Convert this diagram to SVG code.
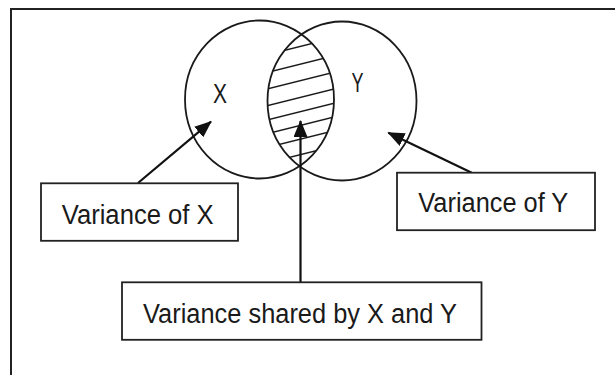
<svg xmlns="http://www.w3.org/2000/svg" width="615" height="375" viewBox="0 0 615 375">
<style>
.sh{fill:none;stroke:#1a1a1a;stroke-width:1.8}
.bx{fill:#fff;stroke:#222;stroke-width:1.8}
.tx{font-family:"Liberation Sans",Arial,sans-serif;font-size:27px;fill:#1a1a1a}
.ar{fill:none;stroke:#111;stroke-width:2.2;marker-end:url(#ah)}
.hl{stroke:#1a1a1a;stroke-width:1.6}
</style>
<defs>
<marker id="ah" markerUnits="userSpaceOnUse" markerWidth="17" markerHeight="14" refX="16" refY="7" orient="auto">
<path d="M0,0 L17,7 L0,14 z" fill="#111"/>
</marker>
<clipPath id="cl"><ellipse cx="259.5" cy="99.5" rx="74.5" ry="79"/></clipPath>
<clipPath id="cr"><ellipse cx="342" cy="101" rx="74.5" ry="79.5"/></clipPath>
</defs>
<rect width="615" height="375" fill="#fff"/>
<path d="M11,380 L11,9 L620,9" fill="none" stroke="#222" stroke-width="2"/>
<g id="hatch" clip-path="url(#cl)"><g clip-path="url(#cr)">
<line class="hl" x1="255" y1="57.8" x2="345" y2="35.3"/>
<line class="hl" x1="255" y1="75.5" x2="345" y2="53"/>
<line class="hl" x1="255" y1="92" x2="345" y2="69.5"/>
<line class="hl" x1="255" y1="108.7" x2="345" y2="86.2"/>
<line class="hl" x1="255" y1="123" x2="345" y2="100.5"/>
<line class="hl" x1="255" y1="136.8" x2="345" y2="114.3"/>
<line class="hl" x1="255" y1="150.5" x2="345" y2="128"/>
<line class="hl" x1="255" y1="166" x2="345" y2="143.5"/>
</g></g>
<g id="circleX"><ellipse class="sh" cx="259.5" cy="99.5" rx="74.5" ry="79"/><text class="tx" x="213" y="103" textLength="14" lengthAdjust="spacingAndGlyphs">X</text></g>
<g id="circleY"><ellipse class="sh" cx="342" cy="101" rx="74.5" ry="79.5"/><text class="tx" x="351.5" y="91.7" textLength="12" lengthAdjust="spacingAndGlyphs">Y</text></g>
<g id="connectors">
<line class="ar" x1="138" y1="183" x2="211" y2="121.7"/>
<line class="ar" x1="471.7" y1="172.7" x2="388.3" y2="132.7"/>
<line class="ar" x1="300.5" y1="282" x2="300.5" y2="121"/>
</g>
<g id="boxX"><rect class="bx" x="41" y="183.3" width="197" height="57.5"/><text class="tx" x="61.7" y="224" textLength="152" lengthAdjust="spacingAndGlyphs">Variance of X</text></g>
<g id="boxY"><rect class="bx" x="397" y="172.7" width="198" height="57.5"/><text class="tx" x="418.3" y="212.3" textLength="150" lengthAdjust="spacingAndGlyphs">Variance of Y</text></g>
<g id="boxShared"><rect class="bx" x="122" y="282.3" width="359.5" height="57.5"/><text class="tx" x="143" y="322.7" textLength="314" lengthAdjust="spacingAndGlyphs">Variance shared by X and Y</text></g>
</svg>
